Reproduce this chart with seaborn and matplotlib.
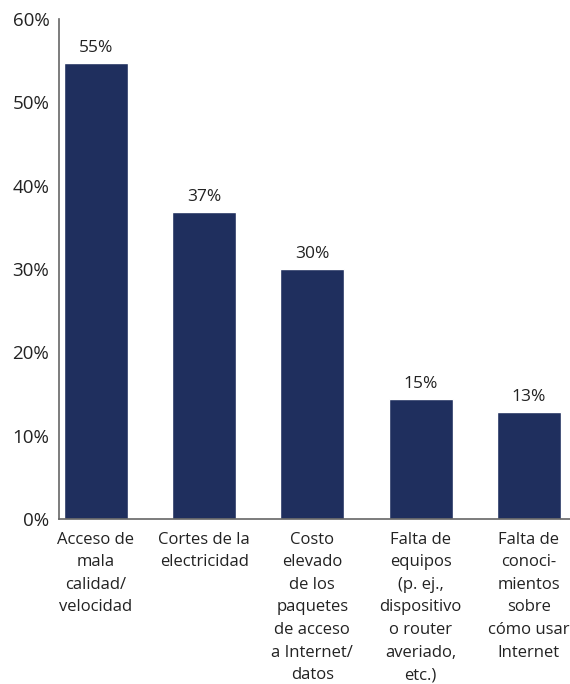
import pandas as pd
import matplotlib
matplotlib.use("Agg")
import matplotlib.pyplot as plt
import seaborn as sns

categories = [
    "Acceso de\nmala\ncalidad/\nvelocidad",
    "Cortes de la\nelectricidad",
    "Costo\nelevado\nde los\npaquetes\nde acceso\na Internet/\ndatos",
    "Falta de\nequipos\n(p. ej.,\ndispositivo\no router\naveriado,\netc.)",
    "Falta de\nconoci-\nmientos\nsobre\ncómo usar\nInternet",
]
values = [54.7, 36.8, 30.0, 14.4, 12.8]
value_labels = ["55%", "37%", "30%", "15%", "13%"]
y_ticks = [0, 10, 20, 30, 40, 50, 60]

sns.set_theme(style="white")
plt.rcParams["font.family"] = ["Open Sans", "DejaVu Sans"]

df = pd.DataFrame({"cat": categories, "val": values})

fig = plt.figure(figsize=(5.7, 6.84), dpi=100)
ax = fig.add_axes([0.1035, 0.2412, 0.8965, 0.731])

sns.barplot(data=df, x="cat", y="val", color="#1f2f5e", width=0.59,
            saturation=1, ax=ax)

for i, (v, lab) in enumerate(zip(values, value_labels)):
    ax.text(i, v + 0.9, lab, ha="center", va="bottom", fontsize=12.5, color="#222222")

ax.set_ylim(0, 60)
ax.set_xlim(-0.34, 4.38)
ax.set_yticks(y_ticks)
ax.set_yticklabels([f"{t}%" for t in y_ticks], fontsize=13.5, color="#222222")
ax.set_xticks(range(len(categories)))
ax.set_xticklabels(categories, fontsize=12, color="#222222", linespacing=1.55, va="top")
ax.tick_params(axis="y", length=0, pad=7)
ax.tick_params(axis="x", length=0, pad=9)
ax.set_xlabel("")
ax.set_ylabel("")

for s in ["top", "right"]:
    ax.spines[s].set_visible(False)
for s in ["left", "bottom"]:
    ax.spines[s].set_color("#666666")
    ax.spines[s].set_linewidth(1.2)

fig.savefig("out.png", dpi=100)
